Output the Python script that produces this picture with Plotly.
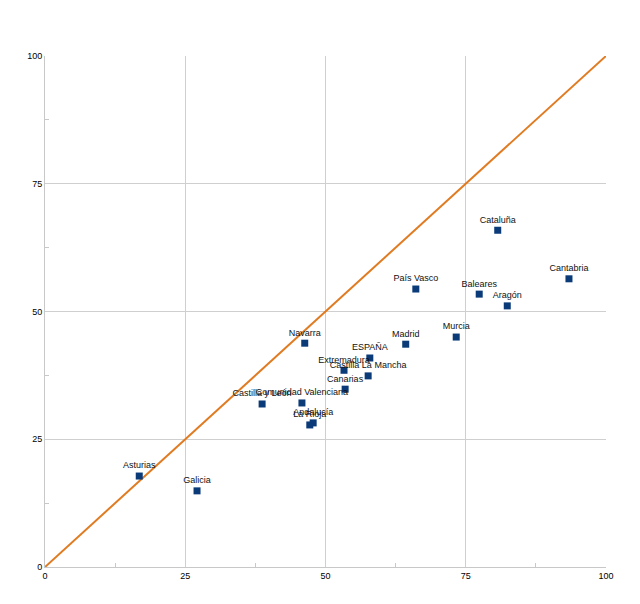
import plotly.graph_objects as go

regions = ["Asturias", "Galicia", "Castilla y León", "Comunidad Valenciana", "Andalucía",
           "La Rioja", "Navarra", "ESPAÑA", "Extremadura", "Castilla La Mancha", "Canarias",
           "Madrid", "Murcia", "País Vasco", "Baleares", "Aragón", "Cataluña", "Cantabria"]
x_vals = [16.8, 27.1, 38.7, 45.8, 47.8, 47.2, 46.3, 57.9, 53.3, 57.6, 53.5,
          64.3, 73.3, 66.1, 77.4, 82.4, 80.7, 93.4]
y_vals = [17.8, 14.9, 31.9, 32.1, 28.2, 27.8, 43.8, 40.9, 38.5, 37.4, 34.8,
          43.6, 45.0, 54.4, 53.4, 51.1, 65.9, 56.4]
diag_x = [0, 100]
diag_y = [0, 100]
ticks = [0, 25, 50, 75, 100]

fig = go.Figure()
fig.add_trace(go.Scatter(x=diag_x, y=diag_y, mode="lines",
                         line=dict(color="#e07b22", width=2), hoverinfo="skip"))
fig.add_trace(go.Scatter(x=x_vals, y=y_vals, mode="markers+text", text=regions,
                         textposition="top center",
                         textfont=dict(family="Liberation Sans, Arial", size=9, color="#111"),
                         marker=dict(symbol="square", size=7, color="#0a3a78",
                                     line=dict(width=0))))

axis_common = dict(range=[0, 100], tickvals=ticks, ticktext=[str(t) for t in ticks],
                   showgrid=True, gridcolor="#cfcfcf", gridwidth=1,
                   showline=True, linecolor="#c8c8c8", linewidth=1, mirror=False,
                   zeroline=False, ticks="", fixedrange=True,
                   tickfont=dict(family="Liberation Sans, Arial", size=9, color="#000"),
                   minor=dict(tickvals=[12.5, 37.5, 62.5, 87.5], ticks="inside",
                              ticklen=4, tickcolor="#c8c8c8", showgrid=False))

fig.update_layout(
    width=640, height=604,
    margin=dict(l=37, r=42, t=48, b=45),
    plot_bgcolor="white", paper_bgcolor="white",
    showlegend=False,
    xaxis=dict(**axis_common),
    yaxis=dict(**axis_common),
)
fig.write_html("out.html")
